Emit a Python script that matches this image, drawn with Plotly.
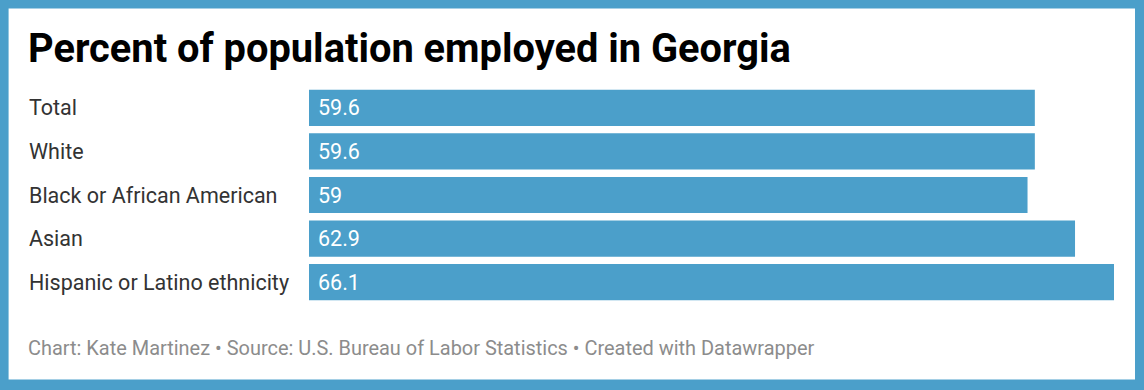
import plotly.graph_objects as go

categories = ["Total", "White", "Black or African American", "Asian", "Hispanic or Latino ethnicity"]
values = [59.6, 59.6, 59, 62.9, 66.1]
title_text = "Percent of population employed in Georgia"
footer_text = "Chart: Kate Martinez • Source: U.S. Bureau of Labor Statistics • Created with Datawrapper"

W, H = 1144, 390
BLUE = "#4b9fca"
L, R = 309.3, 1114.0
T, B = 86.25, 303.75


def px(x):
    return (x - L) / (R - L)


def py(y):
    return (B - y) / (B - T)


fig = go.Figure()
fig.add_trace(go.Bar(
    x=values, y=categories, orientation="h",
    marker=dict(color=BLUE, line=dict(width=0)),
    hoverinfo="skip",
))

annotations = []
# title
annotations.append(dict(text="<b>" + title_text + "</b>", xref="paper", yref="paper",
                        x=px(26), y=py(49), xanchor="left", yanchor="middle", showarrow=False,
                        font=dict(family="Roboto", size=39.8, color="#000000")))
# category labels
for c in categories:
    annotations.append(dict(text=c, xref="paper", yref="y", x=px(27), y=c,
                            xanchor="left", yanchor="middle", showarrow=False,
                            font=dict(family="Roboto", size=21.5, color="#333333")))
# value labels
for c, v in zip(categories, values):
    annotations.append(dict(text=f"{v:g}", xref="x", yref="y", x=0, y=c, xshift=7,
                            xanchor="left", yanchor="middle", showarrow=False,
                            font=dict(family="Roboto", size=21.5, color="#ffffff")))
# footer
annotations.append(dict(text=footer_text, xref="paper", yref="paper", x=px(26), y=py(348),
                        xanchor="left", yanchor="middle", showarrow=False,
                        font=dict(family="Roboto", size=19.95, color="#8c8c8c")))

shapes = [dict(type="rect", xref="paper", yref="paper", layer="below",
               x0=px(9), x1=px(1135), y0=py(379), y1=py(9),
               fillcolor="#ffffff", line=dict(width=0))]

fig.update_layout(
    width=W, height=H,
    margin=dict(l=L, r=W - R, t=T, b=H - B, pad=0, autoexpand=False),
    paper_bgcolor=BLUE, plot_bgcolor="rgba(0,0,0,0)",
    showlegend=False, bargap=0.17,
    xaxis=dict(range=[0, 66.1], visible=False, fixedrange=True),
    yaxis=dict(autorange="reversed", visible=False, fixedrange=True),
    annotations=annotations, shapes=shapes,
)

fig.write_html("out.html", config={"displayModeBar": False},
               post_script="document.body.style.margin='0';document.body.style.padding='0';")
